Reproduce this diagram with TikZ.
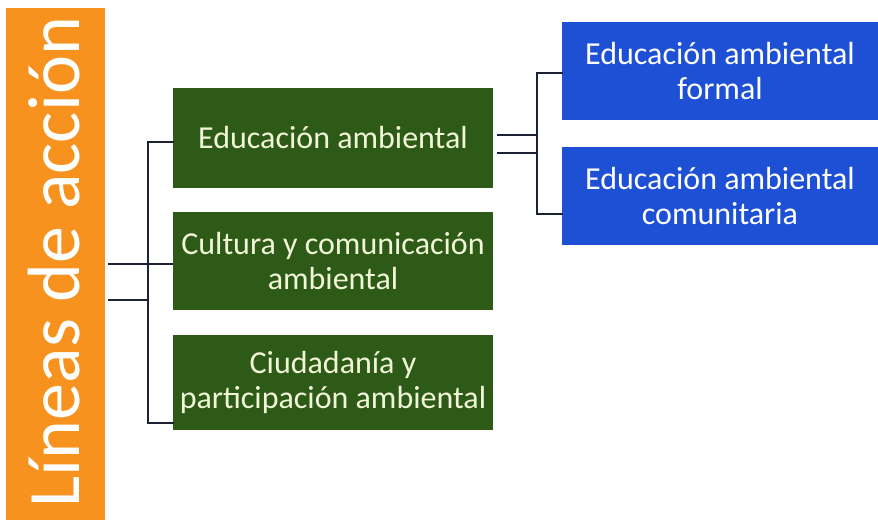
\documentclass[tikz,border=0pt]{standalone}
\usepackage{fontspec}
\setmainfont{Carlito}
\usetikzlibrary{calc}
\definecolor{orangebar}{HTML}{F7921E}
\definecolor{gbox}{HTML}{2D5A16}
\definecolor{bbox}{HTML}{1E50D6}
\definecolor{gtext}{HTML}{F2F6D8}
\definecolor{lncol}{HTML}{1C2233}
\begin{document}
\begin{tikzpicture}[x=1pt,y=-1pt,
  greenbox/.style={fill=gbox, draw=none, text=gtext, align=center, font=\fontsize{32}{35}\selectfont, inner sep=0pt, minimum width=320pt},
  bluebox/.style={fill=bbox, draw=none, text=white, align=center, font=\fontsize{32}{35}\selectfont, inner sep=0pt, minimum width=316pt, minimum height=98pt},
  conn/.style={draw=lncol, line width=2.4pt}]
\useasboundingbox (0,0) rectangle (878,520);
\fill[white] (0,0) rectangle (878,520);
\node[fill=orangebar, minimum width=99pt, minimum height=512pt, inner sep=0pt] (orange) at (55.5,264) {};
\node[rotate=90, text=white, font=\fontsize{74}{80}\selectfont] (title) at (54,262) {Líneas de acción};
\node[greenbox, minimum height=100pt] (g1) at (333,138) {Educación ambiental};
\node[greenbox, minimum height=98pt] (g2) at (333,261) {Cultura y comunicación\\ambiental};
\node[greenbox, minimum height=95pt] (g3) at (333,382.5) {Ciudadanía y\\participación ambiental};
\node[bluebox] (b1) at (720,71) {Educación ambiental\\formal};
\node[bluebox] (b2) at (720,196) {Educación ambiental\\comunitaria};
% left bracket
\coordinate (lt) at (148,142);
\coordinate (lb) at (148,423);
\draw[conn, line cap=rect] (lt -| g1.west) -- (lt) -- (lb) -- (lb -| g3.west);
\coordinate (m1) at (108,264);
\coordinate (m2) at (108,300);
\draw[conn] (m1) -- (m1 -| g2.west);
\draw[conn] (m2) -- (m2 -| lt);
% right bracket
\coordinate (rt) at (537,73);
\coordinate (rb) at (537,214);
\draw[conn, line cap=rect] (rt -| b1.west) -- (rt) -- (rb) -- (rb -| b2.west);
\coordinate (d1) at (497,135);
\coordinate (d2) at (497,153);
\draw[conn] (d1) -- (d1 -| rt);
\draw[conn] (d2) -- (d2 -| rt);
\end{tikzpicture}
\end{document}
